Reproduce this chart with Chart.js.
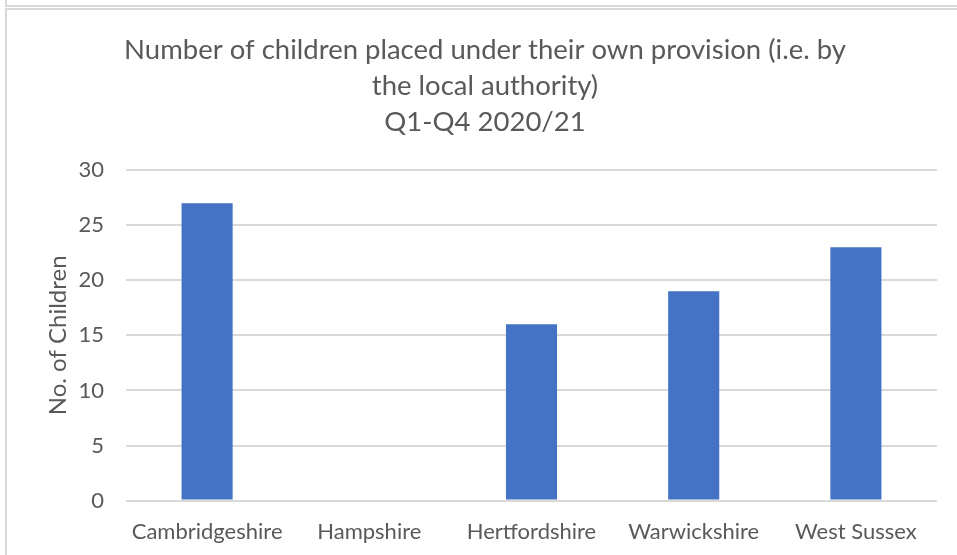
<!DOCTYPE html>
<html>
<head>
<meta charset="utf-8">
<script src="https://cdn.jsdelivr.net/npm/chart.js@4"></script>
<style>
  html, body { margin: 0; padding: 0; background: #fff; }
  #wrap { position: relative; width: 957px; height: 555px; overflow: hidden; }
  #topline { position: absolute; left: 5px; top: 0; width: 960px; height: 5px; border-left: 2px solid #d9d9d9; border-bottom: 2px solid #d9d9d9; }
  #frame { position: absolute; left: 5px; top: 8px; width: 960px; height: 560px; border-left: 2px solid #d9d9d9; border-top: 2px solid #d9d9d9; }
  #holder { position: absolute; left: 0; top: 0; width: 957px; height: 555px; }
</style>
</head>
<body>
<div id="wrap">
  <div id="topline"></div>
  <div id="frame"></div>
  <div id="holder"><canvas id="myChart"></canvas></div>
</div>
<script>
const categories = ['Cambridgeshire', 'Hampshire', 'Hertfordshire', 'Warwickshire', 'West Sussex'];
const children = [27, 0, 16, 19, 23];
const titleLines = ['Number of children placed under their own provision (i.e. by', 'the local authority)', 'Q1-Q4 2020/21'];
const yTitle = 'No. of Children';

const textGrey = '#595959';
const ctx = document.getElementById('myChart').getContext('2d');

const MyChart = new Chart(ctx, {
    type: 'bar',
    data: {
        labels: categories,
        datasets: [{
            label: yTitle,
            data: children,
            backgroundColor: '#4472C4',
            borderWidth: 0,
            categoryPercentage: 1,
            barPercentage: 0.315
        }]
    },
    options: {
        responsive: true,
        maintainAspectRatio: false,
        animation: false,
        layout: { padding: { left: 33, right: 20, top: 0, bottom: 0 } },
        plugins: {
            legend: { display: false },
            tooltip: { enabled: false },
            title: {
                display: true,
                text: titleLines,
                color: textGrey,
                font: { family: 'Lato', size: 27.5, weight: 'normal', lineHeight: 1.31 },
                padding: { top: 32, bottom: 30 }
            }
        },
        scales: {
            x: {
                grid: { display: false },
                border: { display: false },
                ticks: { color: textGrey, font: { family: 'Lato', size: 22 }, padding: 10 }
            },
            y: {
                min: 0,
                max: 30,
                ticks: { stepSize: 5, color: textGrey, font: { family: 'Lato', size: 22 }, padding: 22 },
                grid: { color: '#d9d9d9', lineWidth: 2, drawTicks: false },
                border: { display: false },
                title: { display: true, text: yTitle, color: textGrey, font: { family: 'Lato', size: 24 }, padding: { top: 11, bottom: 0 } },
                afterFit: function(scale) { scale.width = 93; }
            }
        }
    }
});
</script>
</body>
</html>
